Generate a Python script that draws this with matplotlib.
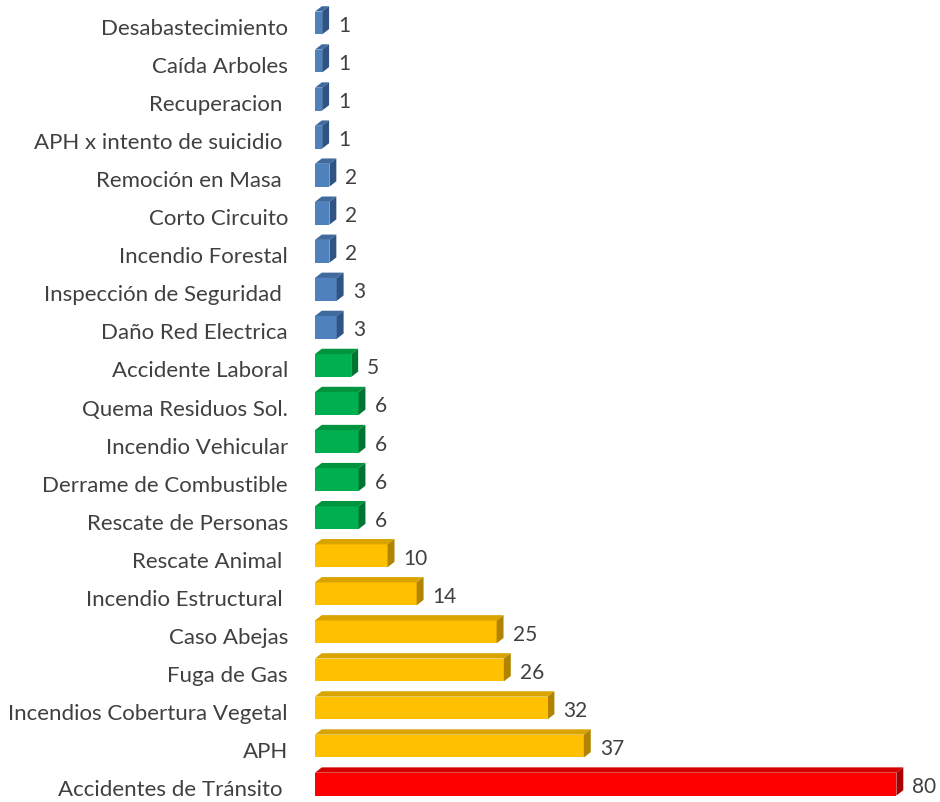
import matplotlib.pyplot as plt
from matplotlib.patches import Polygon

categories = ["Accidentes de Tránsito ", "APH", "Incendios Cobertura Vegetal",
              "Fuga de Gas", "Caso Abejas", "Incendio Estructural ",
              "Rescate Animal ", "Rescate de Personas", "Derrame de Combustible",
              "Incendio Vehicular", "Quema Residuos Sol.", "Accidente Laboral",
              "Daño Red Electrica", "Inspección de Seguridad ", "Incendio Forestal",
              "Corto Circuito", "Remoción en Masa ", "APH x intento de suicidio ",
              "Recuperacion ", "Caída Arboles", "Desabastecimiento"]
values = [80, 37, 32, 26, 25, 14, 10, 6, 6, 6, 6, 5, 3, 3, 2, 2, 2, 1, 1, 1, 1]
groups = ["red"] + ["yellow"] * 6 + ["green"] * 5 + ["blue"] * 9

# front, top, side colours per group
palette = {
    "red": ("#ff0000", "#d40000", "#a80000"),
    "yellow": ("#ffc000", "#d9a300", "#b08400"),
    "green": ("#00b050", "#00943f", "#007532"),
    "blue": ("#4f81bd", "#3f6a9e", "#2f5483"),
}

plt.rcParams['font.family'] = ['Lato', 'DejaVu Sans']

fig = plt.figure(figsize=(9.4, 8.03), dpi=100)
ax = fig.add_axes([0.335, 0, 0.665, 1])

h = 0.6    # bar thickness
dx = 0.95  # depth offset in x (data units)
dy = 0.14  # depth offset in y (data units)

for i, (v, g) in enumerate(zip(values, groups)):
    front, top, side = palette[g]
    ax.barh(i, v, height=h, color=front, edgecolor="none", zorder=2)
    y0, y1 = i - h / 2, i + h / 2
    ax.add_patch(Polygon([(0, y1), (v, y1), (v + dx, y1 + dy), (dx, y1 + dy)],
                         closed=True, facecolor=top, edgecolor="none", zorder=2))
    ax.add_patch(Polygon([(v, y0), (v + dx, y0 + dy), (v + dx, y1 + dy), (v, y1)],
                         closed=True, facecolor=side, edgecolor="none", zorder=2))
    ax.text(v + 2.2, i - 0.05, str(v), va="center", ha="left",
            fontsize=15, color="#404040")

# category labels, slightly below the bar centre like the original
for i, name in enumerate(categories):
    ax.annotate(name, xy=(0, i), xycoords=ax.get_yaxis_transform(),
                xytext=(-27, -5), textcoords="offset pixels",
                ha="right", va="center", fontsize=16, color="#404040")

ax.set_xlim(0, 86)
ax.set_ylim(-0.47, 20.63)
ax.set_xticks([])
ax.set_yticks([])
for s in ax.spines.values():
    s.set_visible(False)

fig.savefig("out.png", dpi=100)
